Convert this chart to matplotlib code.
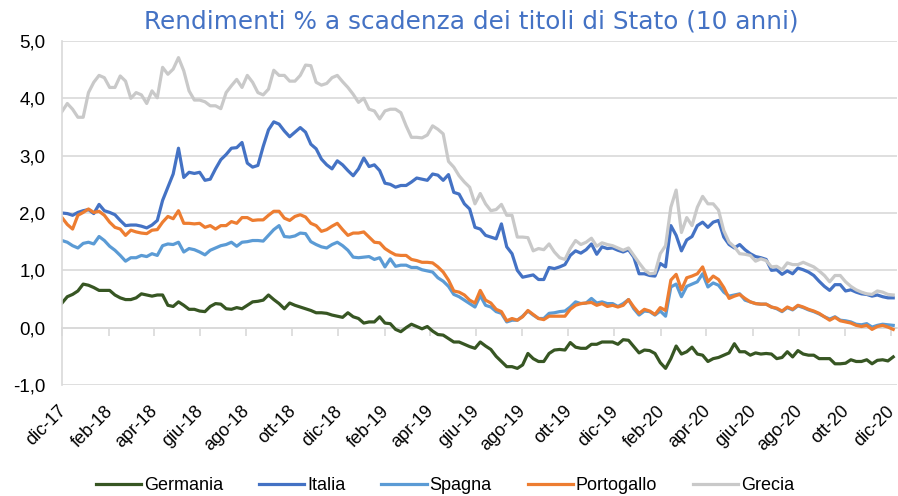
import numpy as np
import pandas as pd
import matplotlib
matplotlib.use("Agg")
import matplotlib.pyplot as plt
import matplotlib.dates as mdates
from matplotlib.ticker import FuncFormatter, MultipleLocator

# dati settimanali (venerdi) da dicembre 2017 a dicembre 2020
start_date = "2017-12-01"

germania = [
    0.43, 0.54, 0.58, 0.64, 0.76, 0.74, 0.70, 0.65, 0.65, 0.65, 0.57, 0.52, 0.49, 0.49, 0.52, 0.59, 0.57, 0.55, 0.57, 0.57, 0.39, 0.37, 0.45, 0.39, 0.32,
    0.32, 0.29, 0.28, 0.37, 0.42, 0.41, 0.33, 0.32, 0.35, 0.33, 0.39, 0.45, 0.46, 0.48, 0.57, 0.49, 0.42, 0.33, 0.43, 0.39, 0.36, 0.33, 0.30, 0.26, 0.26, 0.25, 0.22,
    0.20, 0.18, 0.26, 0.19, 0.16, 0.08, 0.10, 0.10, 0.19, 0.08, 0.07, -0.03, -0.07, 0.00, 0.06, 0.02, -0.02, 0.02, -0.06, -0.12, -0.13, -0.19, -0.25, -0.25, -0.29, -0.33,
    -0.36, -0.25, -0.32, -0.38, -0.50, -0.59, -0.68, -0.68, -0.71, -0.65, -0.45, -0.54, -0.59, -0.59, -0.45, -0.39, -0.38, -0.39, -0.26, -0.34, -0.36, -0.36, -0.29, -0.29, -0.25, -0.25,
    -0.25, -0.29, -0.21, -0.22, -0.33, -0.44, -0.39, -0.40, -0.45, -0.61, -0.71, -0.54, -0.32, -0.46, -0.42, -0.34, -0.46, -0.48, -0.59, -0.54, -0.52, -0.48, -0.44, -0.28, -0.42, -0.42,
    -0.48, -0.44, -0.46, -0.45, -0.46, -0.54, -0.52, -0.42, -0.51, -0.40, -0.46, -0.48, -0.48, -0.54, -0.54, -0.54, -0.63, -0.63, -0.62, -0.56, -0.59, -0.59, -0.56, -0.63, -0.57, -0.56, -0.58, -0.51,
]
italia = [
    2.00, 1.99, 1.96, 2.01, 2.04, 2.06, 1.99, 2.15, 2.04, 2.01, 1.97, 1.87, 1.78, 1.79, 1.79, 1.77, 1.74, 1.79, 1.87, 2.22, 2.45, 2.68, 3.13, 2.62, 2.71,
    2.69, 2.71, 2.57, 2.59, 2.77, 2.93, 3.02, 3.13, 3.14, 3.23, 2.87, 2.80, 2.83, 3.16, 3.45, 3.59, 3.55, 3.43, 3.33, 3.41, 3.49, 3.41, 3.20, 3.12, 2.94, 2.84, 2.77,
    2.91, 2.84, 2.74, 2.65, 2.77, 2.96, 2.81, 2.84, 2.74, 2.52, 2.50, 2.45, 2.48, 2.48, 2.54, 2.61, 2.59, 2.57, 2.68, 2.66, 2.57, 2.67, 2.36, 2.33, 2.16, 2.07,
    1.75, 1.72, 1.61, 1.58, 1.55, 1.81, 1.41, 1.29, 1.00, 0.88, 0.90, 0.92, 0.84, 0.84, 1.05, 1.03, 1.06, 1.10, 1.26, 1.34, 1.30, 1.36, 1.46, 1.28, 1.41, 1.38,
    1.39, 1.35, 1.32, 1.36, 1.23, 0.94, 0.94, 0.91, 0.90, 1.12, 1.06, 1.78, 1.61, 1.34, 1.53, 1.59, 1.78, 1.84, 1.75, 1.84, 1.87, 1.58, 1.45, 1.39, 1.45, 1.36,
    1.29, 1.24, 1.22, 1.19, 1.00, 1.01, 0.93, 0.99, 0.94, 1.04, 1.01, 0.97, 0.91, 0.81, 0.72, 0.65, 0.75, 0.75, 0.64, 0.66, 0.62, 0.59, 0.58, 0.55, 0.57, 0.54, 0.52, 0.52,
]
spagna = [
    1.52, 1.49, 1.43, 1.39, 1.47, 1.49, 1.46, 1.59, 1.52, 1.42, 1.35, 1.26, 1.16, 1.22, 1.22, 1.26, 1.24, 1.29, 1.26, 1.43, 1.46, 1.45, 1.49, 1.32, 1.38,
    1.36, 1.32, 1.27, 1.35, 1.39, 1.43, 1.45, 1.49, 1.42, 1.49, 1.50, 1.52, 1.52, 1.51, 1.61, 1.71, 1.78, 1.59, 1.58, 1.60, 1.65, 1.64, 1.50, 1.45, 1.41, 1.39, 1.45,
    1.49, 1.43, 1.35, 1.23, 1.22, 1.23, 1.24, 1.19, 1.22, 1.06, 1.20, 1.07, 1.09, 1.09, 1.05, 1.05, 1.01, 0.99, 0.97, 0.87, 0.81, 0.72, 0.58, 0.54, 0.48, 0.42,
    0.36, 0.56, 0.39, 0.36, 0.28, 0.25, 0.10, 0.13, 0.13, 0.20, 0.29, 0.22, 0.16, 0.16, 0.25, 0.26, 0.28, 0.29, 0.36, 0.45, 0.42, 0.43, 0.51, 0.43, 0.45, 0.42,
    0.42, 0.37, 0.42, 0.49, 0.33, 0.22, 0.29, 0.28, 0.22, 0.29, 0.20, 0.71, 0.76, 0.54, 0.72, 0.76, 0.80, 0.94, 0.71, 0.78, 0.74, 0.62, 0.55, 0.57, 0.59, 0.48,
    0.45, 0.42, 0.41, 0.41, 0.36, 0.33, 0.28, 0.35, 0.31, 0.38, 0.35, 0.31, 0.28, 0.24, 0.19, 0.15, 0.19, 0.13, 0.12, 0.10, 0.06, 0.05, 0.07, 0.01, 0.04, 0.06, 0.05, 0.04,
]
portogallo = [
    1.92, 1.80, 1.72, 1.96, 2.01, 2.07, 2.01, 2.03, 1.96, 1.84, 1.75, 1.72, 1.61, 1.70, 1.67, 1.65, 1.64, 1.70, 1.71, 1.84, 1.94, 1.90, 2.04, 1.82, 1.82,
    1.81, 1.82, 1.75, 1.78, 1.72, 1.78, 1.78, 1.85, 1.82, 1.92, 1.92, 1.87, 1.88, 1.88, 1.96, 2.03, 2.03, 1.91, 1.87, 1.94, 1.97, 1.93, 1.82, 1.78, 1.68, 1.71, 1.77,
    1.82, 1.71, 1.61, 1.65, 1.65, 1.67, 1.58, 1.49, 1.48, 1.38, 1.32, 1.27, 1.26, 1.26, 1.19, 1.17, 1.14, 1.14, 1.13, 1.06, 0.97, 0.83, 0.64, 0.62, 0.57, 0.48,
    0.43, 0.65, 0.48, 0.43, 0.32, 0.28, 0.12, 0.16, 0.13, 0.19, 0.30, 0.23, 0.16, 0.14, 0.20, 0.20, 0.20, 0.20, 0.32, 0.39, 0.42, 0.43, 0.44, 0.39, 0.42, 0.37,
    0.39, 0.36, 0.39, 0.49, 0.36, 0.25, 0.32, 0.29, 0.23, 0.35, 0.30, 0.83, 0.93, 0.66, 0.87, 0.90, 0.94, 1.06, 0.80, 0.90, 0.84, 0.70, 0.51, 0.55, 0.58, 0.51,
    0.45, 0.42, 0.41, 0.41, 0.36, 0.34, 0.29, 0.36, 0.32, 0.39, 0.36, 0.32, 0.29, 0.25, 0.19, 0.13, 0.18, 0.12, 0.10, 0.08, 0.04, 0.02, 0.04, -0.03, 0.02, 0.04, 0.01, -0.03,
]
grecia = [
    3.77, 3.91, 3.81, 3.67, 3.67, 4.10, 4.28, 4.40, 4.36, 4.19, 4.19, 4.39, 4.30, 4.00, 4.10, 4.06, 3.91, 4.13, 4.01, 4.54, 4.42, 4.51, 4.71, 4.48, 4.13,
    3.97, 3.97, 3.94, 3.87, 3.87, 3.82, 4.10, 4.22, 4.33, 4.19, 4.40, 4.28, 4.10, 4.06, 4.16, 4.49, 4.40, 4.40, 4.30, 4.30, 4.40, 4.58, 4.57, 4.28, 4.23, 4.26, 4.36,
    4.40, 4.29, 4.19, 4.07, 3.93, 4.00, 3.81, 3.78, 3.64, 3.78, 3.81, 3.81, 3.75, 3.52, 3.32, 3.32, 3.31, 3.36, 3.52, 3.46, 3.38, 2.90, 2.80, 2.65, 2.54, 2.45,
    2.16, 2.34, 2.16, 2.04, 2.06, 2.15, 1.96, 1.96, 1.58, 1.58, 1.57, 1.34, 1.38, 1.36, 1.46, 1.32, 1.22, 1.19, 1.38, 1.52, 1.45, 1.49, 1.56, 1.42, 1.48, 1.45,
    1.43, 1.39, 1.35, 1.39, 1.26, 1.13, 1.01, 0.94, 0.95, 1.29, 1.43, 2.10, 2.40, 1.66, 1.92, 1.78, 2.10, 2.29, 2.16, 2.16, 2.05, 1.69, 1.49, 1.41, 1.29, 1.28,
    1.26, 1.16, 1.20, 1.17, 1.06, 1.07, 1.01, 1.13, 1.10, 1.10, 1.14, 1.10, 1.06, 0.99, 0.91, 0.80, 0.91, 0.91, 0.80, 0.72, 0.66, 0.62, 0.59, 0.58, 0.64, 0.62, 0.58, 0.57,
]

paesi = ["Germania", "Italia", "Spagna", "Portogallo", "Grecia"]
colori = ["#375623", "#4472C4", "#5B9BD5", "#ED7D31", "#C9C9C9"]
mesi = ["gen", "feb", "mar", "apr", "mag", "giu", "lug", "ago", "set", "ott", "nov", "dic"]

serie = [germania, italia, spagna, portogallo, grecia]
n = max(len(s) for s in serie)
date = pd.date_range(start_date, periods=n, freq="7D")

fig = plt.figure(figsize=(8.98, 4.96), dpi=100)
ax = fig.add_axes([62 / 898, 111 / 496, 835 / 898, 344 / 496])

for nome, col, s in zip(paesi, colori, serie):
    ax.plot(date[:len(s)], s, color=col, lw=2.3, label=nome, solid_joinstyle="round")

grid_col = "#D9D9D9"
ax.set_ylim(-1, 5)
ax.set_xlim(date[0], date[-1] + pd.Timedelta(days=5))
ax.yaxis.set_major_locator(MultipleLocator(1))
ax.yaxis.set_major_formatter(FuncFormatter(lambda v, p: f"{v:.1f}".replace(".", ",")))
ax.grid(axis="y", color=grid_col, lw=1.2)
ax.set_axisbelow(True)
for side in ["top", "right", "bottom"]:
    ax.spines[side].set_visible(False)
ax.spines["left"].set_color(grid_col)
ax.spines["left"].set_linewidth(1.2)
ax.tick_params(axis="y", length=0, pad=12, labelsize=13.5, labelcolor="#000000")

ax.xaxis.set_major_locator(mdates.MonthLocator(bymonth=[12, 2, 4, 6, 8, 10]))
ax.xaxis.set_major_formatter(FuncFormatter(
    lambda v, p: f"{mesi[mdates.num2date(v).month - 1]}-{mdates.num2date(v).strftime('%y')}"))
ax.tick_params(axis="x", length=0, pad=16, labelsize=13)
for lab in ax.get_xticklabels():
    lab.set_rotation(45)
    lab.set_ha("right")
    lab.set_va("center_baseline")
    lab.set_rotation_mode("anchor")

# asse orizzontale sullo zero con le tacche
sec = ax.secondary_xaxis(1 / 6)
sec.xaxis.set_major_locator(mdates.MonthLocator(bymonth=[12, 2, 4, 6, 8, 10]))
sec.tick_params(axis="x", direction="out", length=6, color=grid_col, width=1.2, labelbottom=False, labeltop=False)
sec.spines["bottom"].set_color(grid_col)
sec.spines["bottom"].set_linewidth(1.2)
sec.spines["top"].set_visible(False)

for t in ax.get_yticklabels() + ax.get_xticklabels():
    t.set_fontfamily(["Liberation Sans", "DejaVu Sans"])

fig.text(471 / 898, 1 - 21 / 496, "Rendimenti % a scadenza dei titoli di Stato (10 anni)",
         ha="center", va="center", fontsize=17.8, color="#4472C4", family="DejaVu Sans")

fig.legend(loc="center", bbox_to_anchor=(445 / 898, 1 - 486 / 496), ncol=5, frameon=False,
           prop={"family": ["Liberation Sans", "DejaVu Sans"], "size": 13},
           handlelength=2.5, handletextpad=0.15, columnspacing=2.0)

fig.savefig("out.png", dpi=100)
